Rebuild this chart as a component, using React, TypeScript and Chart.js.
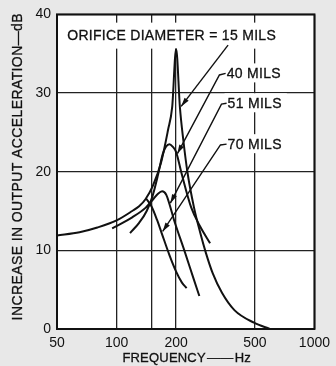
import React, { useEffect, useRef } from "react";
import { Chart, registerables } from "chart.js";

Chart.register(...registerables);

// ---- data (frequency in Hz, increase in output acceleration in dB) ----
const xTickValues = [50, 100, 150, 200, 500, 1000];

const freq15 = [50, 65, 80, 100, 120, 130, 140, 152.5, 168, 182, 191, 200, 209, 217.5, 228.6, 246, 265, 283, 306, 341, 394, 495, 595];
const db15 = [11.9, 12.3, 12.9, 13.8, 15.0, 15.6, 16.5, 18.2, 21.2, 25.3, 28.2, 35.6, 28.2, 24.0, 19.8, 15.5, 12.2, 9.65, 7.1, 4.6, 2.4, 0.8, 0];

const freq40 = [117, 130, 142, 152, 162, 171, 178, 185, 192, 200, 213, 238, 265, 297];
const db40 = [12.2, 13.5, 15.0, 16.9, 19.6, 22.2, 23.2, 23.5, 23.2, 22.5, 19.8, 15.5, 13.0, 10.9];

const freq51 = [95, 120, 140, 152, 162, 170, 178, 185, 195, 220, 245, 262];
const db51 = [12.8, 14.2, 15.4, 16.4, 17.2, 17.5, 17.1, 15.9, 13.9, 10.0, 6.4, 4.2];

const freq70 = [141, 150, 160, 169, 185, 200, 214, 226];
const db70 = [16.6, 15.6, 13.9, 12.2, 9.4, 7.3, 5.9, 5.2];

const seriesNames = ["15 MILS", "40 MILS", "51 MILS", "70 MILS"];
const seriesFreq = [freq15, freq40, freq51, freq70];
const seriesDb = [db15, db40, db51, db70];

const titleText = "ORIFICE DIAMETER = 15 MILS";
const titleAnchor = { hz: 56.3, db: 37.3 };
const titleArrow = { fromHz: 366, fromDb: 36.1, tipHz: 212, tipDb: 28.3 };

const arrowLabels = [
  { text: "40 MILS", textHz: 360, textDb: 32.5, fromHz: 331, fromDb: 32.3, tipHz: 203, tipDb: 22.3 },
  { text: "51 MILS", textHz: 364, textDb: 28.7, fromHz: 339, fromDb: 28.6, tipHz: 187, tipDb: 16.0 },
  { text: "70 MILS", textHz: 364, textDb: 23.5, fromHz: 335, fromDb: 23.4, tipHz: 171, tipDb: 12.4 },
];

const xTitle = "FREQUENCY\u200A——\u200AHz";
const yTitle = "INCREASE IN OUTPUT ACCELERATION—dB";

// ---- style ----
const INK = "#111";
const FONT_FAMILY = "'Liberation Sans', Arial, sans-serif";

function drawArrow(ctx: CanvasRenderingContext2D, pts: number[][]) {
  ctx.beginPath();
  ctx.moveTo(pts[0][0], pts[0][1]);
  for (let i = 1; i < pts.length; i++) ctx.lineTo(pts[i][0], pts[i][1]);
  ctx.stroke();
  const [ax, ay] = pts[pts.length - 2];
  const [bx, by] = pts[pts.length - 1];
  const ang = Math.atan2(by - ay, bx - ax);
  const len = 9, hw = 2.6;
  ctx.beginPath();
  ctx.moveTo(bx, by);
  ctx.lineTo(bx - len * Math.cos(ang) + hw * Math.sin(ang), by - len * Math.sin(ang) - hw * Math.cos(ang));
  ctx.lineTo(bx - len * Math.cos(ang) - hw * Math.sin(ang), by - len * Math.sin(ang) + hw * Math.cos(ang));
  ctx.closePath();
  ctx.fill();
}

function setFont(ctx: any, size: number, spacing: number) {
  ctx.font = `${size}px ${FONT_FAMILY}`;
  ctx.letterSpacing = `${spacing}px`;
}

function inkText(ctx: CanvasRenderingContext2D, text: string, x: number, y: number) {
  ctx.fillText(text, x, y);
  ctx.save();
  ctx.lineWidth = 0.3;
  ctx.strokeText(text, x, y);
  ctx.restore();
}

const decor = {
  id: "decor",
  beforeDraw(chart: any) {
    const { ctx, chartArea: a, width, height } = chart;
    ctx.save();
    ctx.fillStyle = "#e8e8e8";
    ctx.fillRect(0, 0, width, height);
    ctx.fillStyle = "#ffffff";
    ctx.fillRect(a.left, a.top, a.right - a.left, a.bottom - a.top);
    ctx.restore();
  },
  beforeDatasetsDraw(chart: any) {
    const { ctx } = chart;
    const xs = chart.scales.x, ys = chart.scales.y;
    ctx.save();
    setFont(ctx, 14, 0.3);
    ctx.fillStyle = "#ffffff";
    const tx = xs.getPixelForValue(titleAnchor.hz);
    const ty = ys.getPixelForValue(titleAnchor.db);
    const tw = ctx.measureText(titleText).width;
    ctx.fillRect(tx - 6, ty - 13, tw + 12, 26);
    for (const l of arrowLabels) {
      const lx = xs.getPixelForValue(l.textHz);
      const ly = ys.getPixelForValue(l.textDb);
      const w = ctx.measureText(l.text).width;
      ctx.fillRect(lx - 3, ly - 10, w + 8, 19);
    }
    ctx.restore();
  },
  afterDatasetsDraw(chart: any) {
    const { ctx, chartArea: a } = chart;
    const xs = chart.scales.x, ys = chart.scales.y;
    ctx.save();
    setFont(ctx, 14, 0.3);
    ctx.fillStyle = INK;
    ctx.strokeStyle = INK;
    ctx.textBaseline = "middle";
    ctx.textAlign = "left";
    const tx = xs.getPixelForValue(titleAnchor.hz);
    const ty = ys.getPixelForValue(titleAnchor.db);
    inkText(ctx, titleText, tx, ty + 1);
    ctx.lineWidth = 1.4;
    drawArrow(ctx, [
      [xs.getPixelForValue(titleArrow.fromHz), ys.getPixelForValue(titleArrow.fromDb)],
      [xs.getPixelForValue(titleArrow.tipHz), ys.getPixelForValue(titleArrow.tipDb)],
    ]);
    for (const l of arrowLabels) {
      const lx = xs.getPixelForValue(l.textHz);
      const ly = ys.getPixelForValue(l.textDb);
      inkText(ctx, l.text, lx, ly + 1);
      ctx.lineWidth = 1.4;
      drawArrow(ctx, [
        [lx - 1, ly],
        [xs.getPixelForValue(l.fromHz), ys.getPixelForValue(l.fromDb)],
        [xs.getPixelForValue(l.tipHz), ys.getPixelForValue(l.tipDb)],
      ]);
    }
    ctx.lineWidth = 2;
    ctx.strokeRect(a.left, a.top, a.right - a.left, a.bottom - a.top);
    ctx.restore();
  },
  afterDraw(chart: any) {
    const { ctx, chartArea: a, height } = chart;
    ctx.save();
    ctx.fillStyle = INK;
    ctx.strokeStyle = INK;
    ctx.textAlign = "center";
    ctx.textBaseline = "middle";
    // x-axis title
    setFont(ctx, 13, 0.2);
    inkText(ctx, xTitle, (a.left + a.right) / 2 + 1, height - 8);
    // y-axis title
    setFont(ctx, 14, 0.4);
    ctx.translate(18, (a.top + a.bottom) / 2 - 5);
    ctx.rotate(-Math.PI / 2);
    inkText(ctx, yTitle, 0, 0);
    ctx.restore();
  },
};

export default function App() {
  const ref = useRef<HTMLCanvasElement>(null);
  useEffect(() => {
    const font = { family: FONT_FAMILY, size: 14 };
    const chart = new Chart(ref.current as HTMLCanvasElement, {
      type: "line",
      data: {
        datasets: seriesNames.map((name, i) => ({
          label: name,
          data: seriesFreq[i].map((f, j) => ({ x: f, y: seriesDb[i][j] })),
          borderColor: INK,
          borderWidth: 2,
          pointRadius: 0,
          fill: false,
          cubicInterpolationMode: "monotone" as const,
        })),
      },
      options: {
        responsive: false,
        animation: false,
        events: [],
        layout: { padding: { left: 0, top: 14, right: 17, bottom: 0 } },
        plugins: { legend: { display: false }, tooltip: { enabled: false } },
        scales: {
          x: {
            type: "logarithmic",
            min: 50,
            max: 1000,
            afterBuildTicks: (s: any) => {
              s.ticks = xTickValues.map((v) => ({ value: v }));
            },
            afterFit: (s: any) => {
              s.height = 37;
            },
            ticks: {
              autoSkip: false,
              maxRotation: 0,
              minRotation: 0,
              padding: 6,
              font,
              color: INK,
              callback: (v: any) => (Number(v) === 150 ? "" : String(v)),
            },
            grid: { color: "#222", lineWidth: 1.3, drawTicks: false },
            border: { display: false },
            title: { display: false },
          },
          y: {
            min: 0,
            max: 40,
            afterFit: (s: any) => {
              s.width = 57;
            },
            ticks: { stepSize: 10, padding: 6, font, color: INK },
            grid: { color: "#222", lineWidth: 1.3, drawTicks: false },
            border: { display: false },
            title: { display: false },
          },
        },
      },
      plugins: [decor],
    } as any);
    return () => chart.destroy();
  }, []);
  return (
    <div style={{ position: "fixed", left: 0, top: 0, width: 336, height: 366 }}>
      <canvas ref={ref} width={336} height={366} style={{ display: "block", width: 336, height: 366 }} />
    </div>
  );
}
